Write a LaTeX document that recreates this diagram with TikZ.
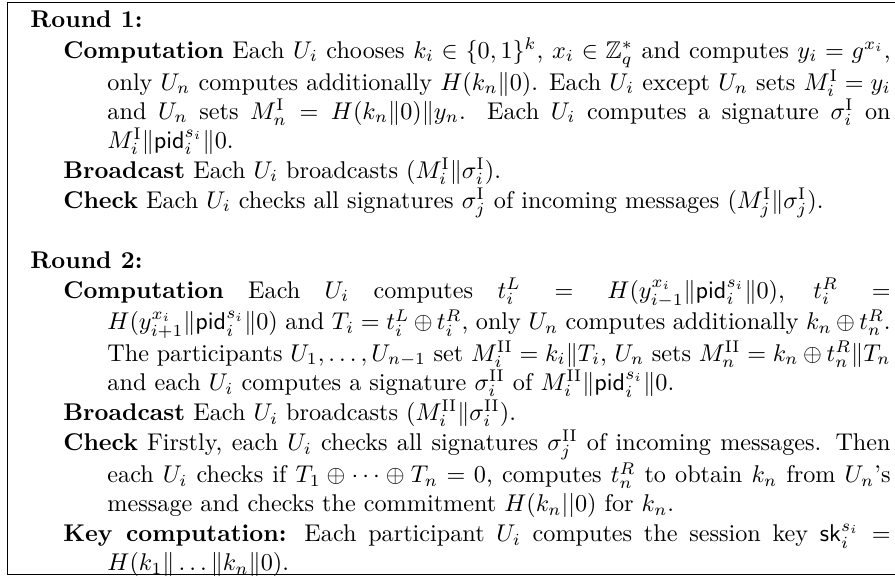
\documentclass[tikz,border=0pt]{standalone}
\usepackage{amsmath, amssymb}
\usepackage{tikz}
\usetikzlibrary{positioning}

\tikzset{
  roundhead/.style={inner sep=0pt, font=\bfseries, anchor=base west},
  phase/.style={inner sep=0pt, text width=341.8pt, align=justify},
}
\newcommand{\phasetext}[2]{\leftskip=18.2pt\noindent\hspace*{-18.2pt}\strut\textbf{#1} #2\strut\par}
\newcommand{\pid}{\mathsf{pid}}

\begin{document}
\begin{tikzpicture}
  \useasboundingbox (0,0) rectangle (369.8pt,-238.4pt);
  % frame, cut off on the right
  \draw (369.8pt,-1.2pt) -- (2.9pt,-1.2pt) -- (2.9pt,-237.2pt) -- (369.8pt,-237.2pt);

  % Round 1
  \node[roundhead] (r1) at (12.4pt,-11.5pt) {\strut Round 1:};
  \node[phase, below=0pt of r1.south west, anchor=north west, xshift=13.6pt] (r1comp)
    {\phasetext{Computation}{Each $U_i$ chooses $k_i \in \{0,1\}^k$, $x_i \in \mathbb{Z}_q^*$ and computes $y_i = g^{x_i}$,\linebreak
     only $U_n$ computes additionally $H(k_n\|0)$. Each $U_i$ except $U_n$ sets $M_i^{\mathrm{I}} = y_i$\linebreak
     and $U_n$ sets $M_n^{\mathrm{I}} = H(k_n\|0)\|y_n$. Each $U_i$ computes a signature $\sigma_i^{\mathrm{I}}$ on\linebreak
     $M_i^{\mathrm{I}}\|\pid_i^{s_i}\|0$.}};
  \node[phase, below=0pt of r1comp.south west, anchor=north west] (r1bc)
    {\phasetext{Broadcast}{Each $U_i$ broadcasts $(M_i^{\mathrm{I}}\|\sigma_i^{\mathrm{I}})$.}};
  \node[phase, below=0pt of r1bc.south west, anchor=north west] (r1chk)
    {\phasetext{Check}{Each $U_i$ checks all signatures $\sigma_j^{\mathrm{I}}$ of incoming messages $(M_j^{\mathrm{I}}\|\sigma_j^{\mathrm{I}})$.}};

  % Round 2
  \node[roundhead, below=12pt of r1chk.south west, anchor=north west, xshift=-13.6pt] (r2) {\strut Round 2:};
  \node[phase, below=0pt of r2.south west, anchor=north west, xshift=13.6pt] (r2comp)
    {\phasetext{Computation}{Each $U_i$ computes $t_i^L = H(y_{i-1}^{x_i}\|\pid_i^{s_i}\|0)$, $t_i^R =$\linebreak
     $H(y_{i+1}^{x_i}\|\pid_i^{s_i}\|0)$ and $T_i = t_i^L \oplus t_i^R$, only $U_n$ computes additionally $k_n \oplus t_n^R$.\linebreak
     The participants $U_1,\dots,U_{n-1}$ set $M_i^{\mathrm{II}} = k_i\|T_i$, $U_n$ sets $M_n^{\mathrm{II}} = k_n \oplus t_n^R\|T_n$\linebreak
     and each $U_i$ computes a signature $\sigma_i^{\mathrm{II}}$ of $M_i^{\mathrm{II}}\|\pid_i^{s_i}\|0$.}};
  \node[phase, below=0pt of r2comp.south west, anchor=north west] (r2bc)
    {\phasetext{Broadcast}{Each $U_i$ broadcasts $(M_i^{\mathrm{II}}\|\sigma_i^{\mathrm{II}})$.}};
  \node[phase, below=0pt of r2bc.south west, anchor=north west] (r2chk)
    {\phasetext{Check}{Firstly, each $U_i$ checks all signatures $\sigma_j^{\mathrm{II}}$ of incoming messages. Then\linebreak
     each $U_i$ checks if $T_1 \oplus \cdots \oplus T_n = 0$, computes $t_n^R$ to obtain $k_n$ from $U_n$'s\linebreak
     message and checks the commitment $H(k_n||0)$ for $k_n$.}};
  \node[phase, below=0pt of r2chk.south west, anchor=north west] (key)
    {\phasetext{Key computation:}{Each participant $U_i$ computes the session key $\mathsf{sk}_i^{s_i} =$\linebreak
     $H(k_1\|\ldots\|k_n\|0)$.}};
\end{tikzpicture}
\end{document}
